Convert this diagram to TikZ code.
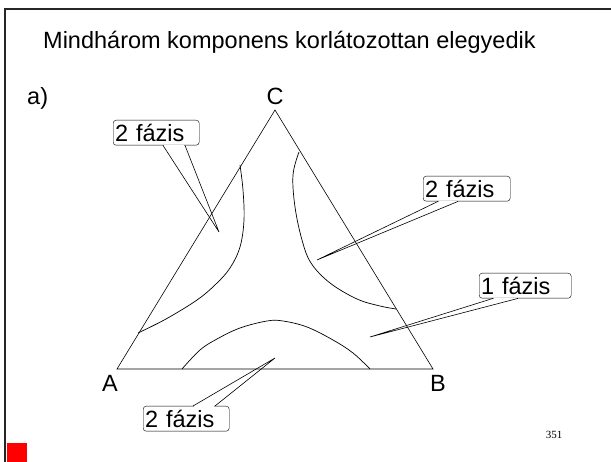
\documentclass[tikz,border=0pt]{standalone}
\usepackage{fontspec}
\setmainfont{Liberation Sans}
\newfontfamily\pagefont{Liberation Serif}
\usetikzlibrary{calc,positioning}

\begin{document}
\begin{tikzpicture}[x=1pt, y=-1pt,
                       bigtext/.style={inner sep=0pt, font=\fontsize{23.5}{28}\selectfont},
                       callbox/.style={draw, rounded corners=3pt, inner ysep=0pt, inner xsep=2pt, minimum height=25pt, anchor=north west, align=left, font=\fontsize{23.5}{28}\selectfont},
                       pointer/.style={line width=0.6pt},
                       curve/.style={line width=0.7pt},
                       gap/.style={white, line width=1.6pt}]
        \useasboundingbox (0,0) rectangle (611,462);
        % slide frame
        \draw[line width=2pt, black!85] (5,462) -- (5,9) -- (611,9);
        \fill[red] (7,443) rectangle (27,462);
        % title
        \node[bigtext, anchor=base west] (title) at (43,49) {Mindhárom komponens korlátozottan elegyedik};
        \node[bigtext, anchor=base west] (part) at (27,105) {a)};
        % triangle
        \coordinate (A) at (117,369);
        \coordinate (B) at (433,369);
        \coordinate (C) at (275,110);
        \draw[line width=0.6pt] (A) -- (B) -- (C) -- cycle;
        \node[bigtext, above=5pt of C] (labC) {C};
        \node[bigtext, below left=6pt and -1pt of A] (labA) {A};
        \node[bigtext, below right=6pt and -3pt of B] (labB) {B};
        % phase boundaries
        \draw[curve] plot[smooth, tension=0.6] coordinates {(240,165) (243,190) (244,220) (240,247) (230,268) (216,284) (197,300) (166,319) (138,333)};
        \draw[curve] plot[smooth, tension=0.6] coordinates {(299,152) (293,175) (295,207) (302,240) (311,263) (330,283) (357,299) (380,306) (396,309)};
        \draw[curve] plot[smooth, tension=0.6] coordinates {(182,369) (200,350) (217,339) (240,328) (267,321) (283,321) (307,327) (333,340) (353,353) (370,369)};
        % callouts
        \node[callbox, text width=82pt] (f1) at (113,120) {2 fázis};
        \node[callbox, text width=83pt] (f2) at (423,176) {2 fázis};
        \node[callbox, text width=88pt] (f3) at (479,273) {1 fázis};
        \node[callbox, text width=82pt] (f4) at (143,406) {2 fázis};
        \coordinate (t1) at (219,232);
        \coordinate (t2) at (317,260);
        \coordinate (t3) at (370,337);
        \coordinate (t4) at (275,358);
        \coordinate (f1a) at ($(f1.south west)+(50,0)$);
        \coordinate (f1b) at ($(f1.south west)+(72,0)$);
        \coordinate (f2a) at ($(f2.south west)+(15,0)$);
        \coordinate (f2b) at ($(f2.south west)+(35,0)$);
        \coordinate (f3a) at ($(f3.south west)+(14,0)$);
        \coordinate (f3b) at ($(f3.south west)+(39,0)$);
        \coordinate (f4a) at ($(f4.north west)+(50,0)$);
        \coordinate (f4b) at ($(f4.north west)+(72,0)$);
        \foreach \p in {f1,f2,f3,f4} {
            \draw[gap] ($(\p a)+(0.9,0)$) -- ($(\p b)+(-0.9,0)$);
        }
        \draw[pointer] (f1a) -- (t1) -- (f1b);
        \draw[pointer] (f2a) -- (t2) -- (f2b);
        \draw[pointer] (f3a) -- (t3) -- (f3b);
        \draw[pointer] (f4a) -- (t4) -- (f4b);
        % page number
        \node[font=\pagefont\fontsize{11}{13}\selectfont] (page) at (554,435) {351};
    \end{tikzpicture}
\end{document}
